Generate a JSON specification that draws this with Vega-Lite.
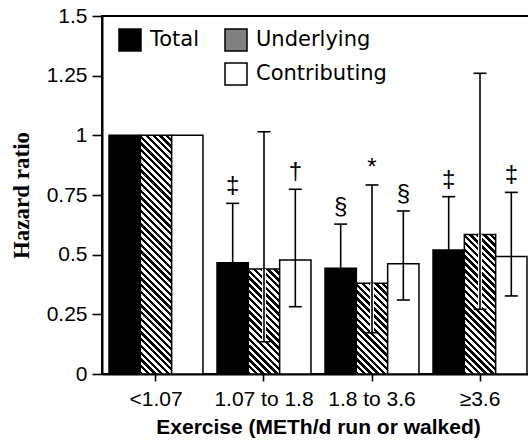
{
"$schema": "https://vega.github.io/schema/vega-lite/v6.json",
"width": 432,
"height": 358,
"autosize": {"type": "none"},
"padding": {"left": 102, "top": 16, "right": 0, "bottom": 72},
"background": "white",
"config": {"view": {"stroke": "black", "strokeWidth": 2}, "font": "Liberation Sans"},
"data": {"values": [
{"group": "<1.07", "series": "Total", "value": 1.0, "low": null, "high": null, "sym": ""},
{"group": "<1.07", "series": "Underlying", "value": 1.0, "low": null, "high": null, "sym": ""},
{"group": "<1.07", "series": "Contributing", "value": 1.0, "low": null, "high": null, "sym": ""},
{"group": "1.07 to 1.8", "series": "Total", "value": 0.466, "low": 0.304, "high": 0.715, "sym": "‡"},
{"group": "1.07 to 1.8", "series": "Underlying", "value": 0.44, "low": 0.135, "high": 1.015, "sym": ""},
{"group": "1.07 to 1.8", "series": "Contributing", "value": 0.478, "low": 0.282, "high": 0.774, "sym": "†"},
{"group": "1.8 to 3.6", "series": "Total", "value": 0.443, "low": 0.312, "high": 0.628, "sym": "§"},
{"group": "1.8 to 3.6", "series": "Underlying", "value": 0.38, "low": 0.173, "high": 0.792, "sym": "*"},
{"group": "1.8 to 3.6", "series": "Contributing", "value": 0.462, "low": 0.31, "high": 0.683, "sym": "§"},
{"group": "≥3.6", "series": "Total", "value": 0.52, "low": 0.364, "high": 0.743, "sym": "‡"},
{"group": "≥3.6", "series": "Underlying", "value": 0.585, "low": 0.271, "high": 1.26, "sym": ""},
{"group": "≥3.6", "series": "Contributing", "value": 0.492, "low": 0.327, "high": 0.761, "sym": "‡"}
]},
"encoding": {
"x": {"field": "group", "type": "nominal", "sort": ["<1.07", "1.07 to 1.8", "1.8 to 3.6", "≥3.6"], "scale": {"paddingInner": 0.13, "paddingOuter": 0.065}, "title": "Exercise (METh/d run or walked)",
"axis": {"labelAngle": 0, "domainColor": "black", "domainWidth": 2, "tickColor": "black", "tickWidth": 1.6, "tickSize": 7, "labelFont": "Liberation Sans", "labelFontSize": 21, "labelColor": "black", "labelPadding": 7, "titleFont": "Liberation Sans", "titleFontSize": 21, "titleFontWeight": "bold", "titleColor": "black", "titlePadding": 7}},
"xOffset": {"field": "series", "type": "nominal", "sort": ["Total", "Underlying", "Contributing"], "scale": {"domain": ["Total", "Underlying", "Contributing"], "paddingInner": 0, "paddingOuter": 0}}
},
"layer": [
{"mark": {"type": "bar", "strokeWidth": 1.5},
"encoding": {
"y": {"field": "value", "type": "quantitative", "scale": {"domain": [0, 1.5], "nice": false}, "title": "Hazard ratio",
"axis": {"values": [0, 0.25, 0.5, 0.75, 1, 1.25, 1.5], "labelExpr": "'' + datum.value", "grid": false, "domainColor": "black", "domainWidth": 2, "tickColor": "black", "tickWidth": 1.6, "tickSize": 10, "labelFont": "Liberation Sans", "labelFontSize": 21, "labelColor": "black", "labelPadding": 5, "titleFont": "Liberation Serif", "titleFontSize": 23, "titleFontWeight": "bold", "titleColor": "black", "titlePadding": 13}},
"stroke": {"field": "series", "type": "nominal",
"scale": {"domain": ["Total", " ", "Underlying", "Contributing"], "range": ["#000000", "#ffffff", "#000000", "#000000"]},
"legend": {"orient": "none", "legendX": 16, "legendY": 12, "columns": 2, "title": null, "padding": 0, "symbolType": "square", "symbolSize": 484, "symbolStrokeWidth": 1.5, "labelFont": "DejaVu Sans", "labelFontSize": 21, "labelColor": "black", "labelOffset": 8, "columnPadding": 22, "rowPadding": 6}},
"fill": {
"condition": [
{"test": "datum.series==='Underlying' && datum.group==='<1.07'", "value": {"gradient": "linear", "x1": 0, "y1": 1, "x2": 0.1458, "y2": -0.1119, "stops": [
{"offset":0,"color":"#000"},{"offset":0.0125,"color":"#000"},{"offset":0.0125,"color":"#fff"},{"offset":0.025,"color":"#fff"},
{"offset":0.025,"color":"#000"},{"offset":0.0375,"color":"#000"},{"offset":0.0375,"color":"#fff"},{"offset":0.05,"color":"#fff"},
{"offset":0.05,"color":"#000"},{"offset":0.0625,"color":"#000"},{"offset":0.0625,"color":"#fff"},{"offset":0.075,"color":"#fff"},
{"offset":0.075,"color":"#000"},{"offset":0.0875,"color":"#000"},{"offset":0.0875,"color":"#fff"},{"offset":0.1,"color":"#fff"},
{"offset":0.1,"color":"#000"},{"offset":0.1125,"color":"#000"},{"offset":0.1125,"color":"#fff"},{"offset":0.125,"color":"#fff"},
{"offset":0.125,"color":"#000"},{"offset":0.1375,"color":"#000"},{"offset":0.1375,"color":"#fff"},{"offset":0.15,"color":"#fff"},
{"offset":0.15,"color":"#000"},{"offset":0.1625,"color":"#000"},{"offset":0.1625,"color":"#fff"},{"offset":0.175,"color":"#fff"},
{"offset":0.175,"color":"#000"},{"offset":0.1875,"color":"#000"},{"offset":0.1875,"color":"#fff"},{"offset":0.2,"color":"#fff"},
{"offset":0.2,"color":"#000"},{"offset":0.2125,"color":"#000"},{"offset":0.2125,"color":"#fff"},{"offset":0.225,"color":"#fff"},
{"offset":0.225,"color":"#000"},{"offset":0.2375,"color":"#000"},{"offset":0.2375,"color":"#fff"},{"offset":0.25,"color":"#fff"},
{"offset":0.25,"color":"#000"},{"offset":0.2625,"color":"#000"},{"offset":0.2625,"color":"#fff"},{"offset":0.275,"color":"#fff"},
{"offset":0.275,"color":"#000"},{"offset":0.2875,"color":"#000"},{"offset":0.2875,"color":"#fff"},{"offset":0.3,"color":"#fff"},
{"offset":0.3,"color":"#000"},{"offset":0.3125,"color":"#000"},{"offset":0.3125,"color":"#fff"},{"offset":0.325,"color":"#fff"},
{"offset":0.325,"color":"#000"},{"offset":0.3375,"color":"#000"},{"offset":0.3375,"color":"#fff"},{"offset":0.35,"color":"#fff"},
{"offset":0.35,"color":"#000"},{"offset":0.3625,"color":"#000"},{"offset":0.3625,"color":"#fff"},{"offset":0.375,"color":"#fff"},
{"offset":0.375,"color":"#000"},{"offset":0.3875,"color":"#000"},{"offset":0.3875,"color":"#fff"},{"offset":0.4,"color":"#fff"},
{"offset":0.4,"color":"#000"},{"offset":0.4125,"color":"#000"},{"offset":0.4125,"color":"#fff"},{"offset":0.425,"color":"#fff"},
{"offset":0.425,"color":"#000"},{"offset":0.4375,"color":"#000"},{"offset":0.4375,"color":"#fff"},{"offset":0.45,"color":"#fff"},
{"offset":0.45,"color":"#000"},{"offset":0.4625,"color":"#000"},{"offset":0.4625,"color":"#fff"},{"offset":0.475,"color":"#fff"},
{"offset":0.475,"color":"#000"},{"offset":0.4875,"color":"#000"},{"offset":0.4875,"color":"#fff"},{"offset":0.5,"color":"#fff"},
{"offset":0.5,"color":"#000"},{"offset":0.5125,"color":"#000"},{"offset":0.5125,"color":"#fff"},{"offset":0.525,"color":"#fff"},
{"offset":0.525,"color":"#000"},{"offset":0.5375,"color":"#000"},{"offset":0.5375,"color":"#fff"},{"offset":0.55,"color":"#fff"},
{"offset":0.55,"color":"#000"},{"offset":0.5625,"color":"#000"},{"offset":0.5625,"color":"#fff"},{"offset":0.575,"color":"#fff"},
{"offset":0.575,"color":"#000"},{"offset":0.5875,"color":"#000"},{"offset":0.5875,"color":"#fff"},{"offset":0.6,"color":"#fff"},
{"offset":0.6,"color":"#000"},{"offset":0.6125,"color":"#000"},{"offset":0.6125,"color":"#fff"},{"offset":0.625,"color":"#fff"},
{"offset":0.625,"color":"#000"},{"offset":0.6375,"color":"#000"},{"offset":0.6375,"color":"#fff"},{"offset":0.65,"color":"#fff"},
{"offset":0.65,"color":"#000"},{"offset":0.6625,"color":"#000"},{"offset":0.6625,"color":"#fff"},{"offset":0.675,"color":"#fff"},
{"offset":0.675,"color":"#000"},{"offset":0.6875,"color":"#000"},{"offset":0.6875,"color":"#fff"},{"offset":0.7,"color":"#fff"},
{"offset":0.7,"color":"#000"},{"offset":0.7125,"color":"#000"},{"offset":0.7125,"color":"#fff"},{"offset":0.725,"color":"#fff"},
{"offset":0.725,"color":"#000"},{"offset":0.7375,"color":"#000"},{"offset":0.7375,"color":"#fff"},{"offset":0.75,"color":"#fff"},
{"offset":0.75,"color":"#000"},{"offset":0.7625,"color":"#000"},{"offset":0.7625,"color":"#fff"},{"offset":0.775,"color":"#fff"},
{"offset":0.775,"color":"#000"},{"offset":0.7875,"color":"#000"},{"offset":0.7875,"color":"#fff"},{"offset":0.8,"color":"#fff"},
{"offset":0.8,"color":"#000"},{"offset":0.8125,"color":"#000"},{"offset":0.8125,"color":"#fff"},{"offset":0.825,"color":"#fff"},
{"offset":0.825,"color":"#000"},{"offset":0.8375,"color":"#000"},{"offset":0.8375,"color":"#fff"},{"offset":0.85,"color":"#fff"},
{"offset":0.85,"color":"#000"},{"offset":0.8625,"color":"#000"},{"offset":0.8625,"color":"#fff"},{"offset":0.875,"color":"#fff"},
{"offset":0.875,"color":"#000"},{"offset":0.8875,"color":"#000"},{"offset":0.8875,"color":"#fff"},{"offset":0.9,"color":"#fff"},
{"offset":0.9,"color":"#000"},{"offset":0.9125,"color":"#000"},{"offset":0.9125,"color":"#fff"},{"offset":0.925,"color":"#fff"},
{"offset":0.925,"color":"#000"},{"offset":0.9375,"color":"#000"},{"offset":0.9375,"color":"#fff"},{"offset":0.95,"color":"#fff"},
{"offset":0.95,"color":"#000"},{"offset":0.9625,"color":"#000"},{"offset":0.9625,"color":"#fff"},{"offset":0.975,"color":"#fff"},
{"offset":0.975,"color":"#000"},{"offset":0.9875,"color":"#000"},{"offset":0.9875,"color":"#fff"},{"offset":1,"color":"#fff"}
]}},
{"test": "datum.series==='Underlying' && datum.group==='1.07 to 1.8'", "value": {"gradient": "linear", "x1": 0, "y1": 1, "x2": 0.3552, "y2": -0.1917, "stops": [
{"offset":0,"color":"#000"},{"offset":0.025,"color":"#000"},{"offset":0.025,"color":"#fff"},{"offset":0.05,"color":"#fff"},
{"offset":0.05,"color":"#000"},{"offset":0.075,"color":"#000"},{"offset":0.075,"color":"#fff"},{"offset":0.1,"color":"#fff"},
{"offset":0.1,"color":"#000"},{"offset":0.125,"color":"#000"},{"offset":0.125,"color":"#fff"},{"offset":0.15,"color":"#fff"},
{"offset":0.15,"color":"#000"},{"offset":0.175,"color":"#000"},{"offset":0.175,"color":"#fff"},{"offset":0.2,"color":"#fff"},
{"offset":0.2,"color":"#000"},{"offset":0.225,"color":"#000"},{"offset":0.225,"color":"#fff"},{"offset":0.25,"color":"#fff"},
{"offset":0.25,"color":"#000"},{"offset":0.275,"color":"#000"},{"offset":0.275,"color":"#fff"},{"offset":0.3,"color":"#fff"},
{"offset":0.3,"color":"#000"},{"offset":0.325,"color":"#000"},{"offset":0.325,"color":"#fff"},{"offset":0.35,"color":"#fff"},
{"offset":0.35,"color":"#000"},{"offset":0.375,"color":"#000"},{"offset":0.375,"color":"#fff"},{"offset":0.4,"color":"#fff"},
{"offset":0.4,"color":"#000"},{"offset":0.425,"color":"#000"},{"offset":0.425,"color":"#fff"},{"offset":0.45,"color":"#fff"},
{"offset":0.45,"color":"#000"},{"offset":0.475,"color":"#000"},{"offset":0.475,"color":"#fff"},{"offset":0.5,"color":"#fff"},
{"offset":0.5,"color":"#000"},{"offset":0.525,"color":"#000"},{"offset":0.525,"color":"#fff"},{"offset":0.55,"color":"#fff"},
{"offset":0.55,"color":"#000"},{"offset":0.575,"color":"#000"},{"offset":0.575,"color":"#fff"},{"offset":0.6,"color":"#fff"},
{"offset":0.6,"color":"#000"},{"offset":0.625,"color":"#000"},{"offset":0.625,"color":"#fff"},{"offset":0.65,"color":"#fff"},
{"offset":0.65,"color":"#000"},{"offset":0.675,"color":"#000"},{"offset":0.675,"color":"#fff"},{"offset":0.7,"color":"#fff"},
{"offset":0.7,"color":"#000"},{"offset":0.725,"color":"#000"},{"offset":0.725,"color":"#fff"},{"offset":0.75,"color":"#fff"},
{"offset":0.75,"color":"#000"},{"offset":0.775,"color":"#000"},{"offset":0.775,"color":"#fff"},{"offset":0.8,"color":"#fff"},
{"offset":0.8,"color":"#000"},{"offset":0.825,"color":"#000"},{"offset":0.825,"color":"#fff"},{"offset":0.85,"color":"#fff"},
{"offset":0.85,"color":"#000"},{"offset":0.875,"color":"#000"},{"offset":0.875,"color":"#fff"},{"offset":0.9,"color":"#fff"},
{"offset":0.9,"color":"#000"},{"offset":0.925,"color":"#000"},{"offset":0.925,"color":"#fff"},{"offset":0.95,"color":"#fff"},
{"offset":0.95,"color":"#000"},{"offset":0.975,"color":"#000"},{"offset":0.975,"color":"#fff"},{"offset":1,"color":"#fff"}
]}},
{"test": "datum.series==='Underlying' && datum.group==='1.8 to 3.6'", "value": {"gradient": "linear", "x1": 0, "y1": 1, "x2": 0.4148, "y2": -0.2021, "stops": [
{"offset":0,"color":"#000"},{"offset":0.0278,"color":"#000"},{"offset":0.0278,"color":"#fff"},{"offset":0.0556,"color":"#fff"},
{"offset":0.0556,"color":"#000"},{"offset":0.0833,"color":"#000"},{"offset":0.0833,"color":"#fff"},{"offset":0.1111,"color":"#fff"},
{"offset":0.1111,"color":"#000"},{"offset":0.1389,"color":"#000"},{"offset":0.1389,"color":"#fff"},{"offset":0.1667,"color":"#fff"},
{"offset":0.1667,"color":"#000"},{"offset":0.1944,"color":"#000"},{"offset":0.1944,"color":"#fff"},{"offset":0.2222,"color":"#fff"},
{"offset":0.2222,"color":"#000"},{"offset":0.25,"color":"#000"},{"offset":0.25,"color":"#fff"},{"offset":0.2778,"color":"#fff"},
{"offset":0.2778,"color":"#000"},{"offset":0.3056,"color":"#000"},{"offset":0.3056,"color":"#fff"},{"offset":0.3333,"color":"#fff"},
{"offset":0.3333,"color":"#000"},{"offset":0.3611,"color":"#000"},{"offset":0.3611,"color":"#fff"},{"offset":0.3889,"color":"#fff"},
{"offset":0.3889,"color":"#000"},{"offset":0.4167,"color":"#000"},{"offset":0.4167,"color":"#fff"},{"offset":0.4444,"color":"#fff"},
{"offset":0.4444,"color":"#000"},{"offset":0.4722,"color":"#000"},{"offset":0.4722,"color":"#fff"},{"offset":0.5,"color":"#fff"},
{"offset":0.5,"color":"#000"},{"offset":0.5278,"color":"#000"},{"offset":0.5278,"color":"#fff"},{"offset":0.5556,"color":"#fff"},
{"offset":0.5556,"color":"#000"},{"offset":0.5833,"color":"#000"},{"offset":0.5833,"color":"#fff"},{"offset":0.6111,"color":"#fff"},
{"offset":0.6111,"color":"#000"},{"offset":0.6389,"color":"#000"},{"offset":0.6389,"color":"#fff"},{"offset":0.6667,"color":"#fff"},
{"offset":0.6667,"color":"#000"},{"offset":0.6944,"color":"#000"},{"offset":0.6944,"color":"#fff"},{"offset":0.7222,"color":"#fff"},
{"offset":0.7222,"color":"#000"},{"offset":0.75,"color":"#000"},{"offset":0.75,"color":"#fff"},{"offset":0.7778,"color":"#fff"},
{"offset":0.7778,"color":"#000"},{"offset":0.8056,"color":"#000"},{"offset":0.8056,"color":"#fff"},{"offset":0.8333,"color":"#fff"},
{"offset":0.8333,"color":"#000"},{"offset":0.8611,"color":"#000"},{"offset":0.8611,"color":"#fff"},{"offset":0.8889,"color":"#fff"},
{"offset":0.8889,"color":"#000"},{"offset":0.9167,"color":"#000"},{"offset":0.9167,"color":"#fff"},{"offset":0.9444,"color":"#fff"},
{"offset":0.9444,"color":"#000"},{"offset":0.9722,"color":"#000"},{"offset":0.9722,"color":"#fff"},{"offset":1,"color":"#fff"}
]}},
{"test": "datum.series==='Underlying' && datum.group==='≥3.6'", "value": {"gradient": "linear", "x1": 0, "y1": 1, "x2": 0.2614, "y2": -0.1658, "stops": [
{"offset":0,"color":"#000"},{"offset":0.02,"color":"#000"},{"offset":0.02,"color":"#fff"},{"offset":0.04,"color":"#fff"},
{"offset":0.04,"color":"#000"},{"offset":0.06,"color":"#000"},{"offset":0.06,"color":"#fff"},{"offset":0.08,"color":"#fff"},
{"offset":0.08,"color":"#000"},{"offset":0.1,"color":"#000"},{"offset":0.1,"color":"#fff"},{"offset":0.12,"color":"#fff"},
{"offset":0.12,"color":"#000"},{"offset":0.14,"color":"#000"},{"offset":0.14,"color":"#fff"},{"offset":0.16,"color":"#fff"},
{"offset":0.16,"color":"#000"},{"offset":0.18,"color":"#000"},{"offset":0.18,"color":"#fff"},{"offset":0.2,"color":"#fff"},
{"offset":0.2,"color":"#000"},{"offset":0.22,"color":"#000"},{"offset":0.22,"color":"#fff"},{"offset":0.24,"color":"#fff"},
{"offset":0.24,"color":"#000"},{"offset":0.26,"color":"#000"},{"offset":0.26,"color":"#fff"},{"offset":0.28,"color":"#fff"},
{"offset":0.28,"color":"#000"},{"offset":0.3,"color":"#000"},{"offset":0.3,"color":"#fff"},{"offset":0.32,"color":"#fff"},
{"offset":0.32,"color":"#000"},{"offset":0.34,"color":"#000"},{"offset":0.34,"color":"#fff"},{"offset":0.36,"color":"#fff"},
{"offset":0.36,"color":"#000"},{"offset":0.38,"color":"#000"},{"offset":0.38,"color":"#fff"},{"offset":0.4,"color":"#fff"},
{"offset":0.4,"color":"#000"},{"offset":0.42,"color":"#000"},{"offset":0.42,"color":"#fff"},{"offset":0.44,"color":"#fff"},
{"offset":0.44,"color":"#000"},{"offset":0.46,"color":"#000"},{"offset":0.46,"color":"#fff"},{"offset":0.48,"color":"#fff"},
{"offset":0.48,"color":"#000"},{"offset":0.5,"color":"#000"},{"offset":0.5,"color":"#fff"},{"offset":0.52,"color":"#fff"},
{"offset":0.52,"color":"#000"},{"offset":0.54,"color":"#000"},{"offset":0.54,"color":"#fff"},{"offset":0.56,"color":"#fff"},
{"offset":0.56,"color":"#000"},{"offset":0.58,"color":"#000"},{"offset":0.58,"color":"#fff"},{"offset":0.6,"color":"#fff"},
{"offset":0.6,"color":"#000"},{"offset":0.62,"color":"#000"},{"offset":0.62,"color":"#fff"},{"offset":0.64,"color":"#fff"},
{"offset":0.64,"color":"#000"},{"offset":0.66,"color":"#000"},{"offset":0.66,"color":"#fff"},{"offset":0.68,"color":"#fff"},
{"offset":0.68,"color":"#000"},{"offset":0.7,"color":"#000"},{"offset":0.7,"color":"#fff"},{"offset":0.72,"color":"#fff"},
{"offset":0.72,"color":"#000"},{"offset":0.74,"color":"#000"},{"offset":0.74,"color":"#fff"},{"offset":0.76,"color":"#fff"},
{"offset":0.76,"color":"#000"},{"offset":0.78,"color":"#000"},{"offset":0.78,"color":"#fff"},{"offset":0.8,"color":"#fff"},
{"offset":0.8,"color":"#000"},{"offset":0.82,"color":"#000"},{"offset":0.82,"color":"#fff"},{"offset":0.84,"color":"#fff"},
{"offset":0.84,"color":"#000"},{"offset":0.86,"color":"#000"},{"offset":0.86,"color":"#fff"},{"offset":0.88,"color":"#fff"},
{"offset":0.88,"color":"#000"},{"offset":0.9,"color":"#000"},{"offset":0.9,"color":"#fff"},{"offset":0.92,"color":"#fff"},
{"offset":0.92,"color":"#000"},{"offset":0.94,"color":"#000"},{"offset":0.94,"color":"#fff"},{"offset":0.96,"color":"#fff"},
{"offset":0.96,"color":"#000"},{"offset":0.98,"color":"#000"},{"offset":0.98,"color":"#fff"},{"offset":1,"color":"#fff"}
]}}
],
"field": "series", "type": "nominal",
"scale": {"domain": ["Total", " ", "Underlying", "Contributing"], "range": ["#000000", "#ffffff", "#808080", "#ffffff"]},
"legend": {"orient": "none", "legendX": 16, "legendY": 12, "columns": 2, "title": null, "padding": 0, "symbolType": "square", "symbolSize": 484, "symbolStrokeWidth": 1.5, "labelFont": "DejaVu Sans", "labelFontSize": 21, "labelColor": "black", "labelOffset": 8, "columnPadding": 22, "rowPadding": 6}
}
}},
{"transform": [{"filter": "datum.high != null && datum.series === 'Underlying'"}],
"mark": {"type": "rule", "stroke": "white", "strokeWidth": 4},
"encoding": {"y": {"field": "low", "type": "quantitative", "title": "Hazard ratio"}, "y2": {"field": "value"}}},
{"transform": [{"filter": "datum.high != null"}],
"mark": {"type": "rule", "stroke": "black", "strokeWidth": 1.6},
"encoding": {"y": {"field": "low", "type": "quantitative", "title": "Hazard ratio"}, "y2": {"field": "high"}}},
{"transform": [{"filter": "datum.high != null"}],
"mark": {"type": "tick", "color": "black", "thickness": 1.6, "size": 13, "opacity": 1},
"encoding": {"y": {"field": "high", "type": "quantitative", "title": "Hazard ratio"}}},
{"transform": [{"filter": "datum.high != null"}],
"mark": {"type": "tick", "color": "black", "thickness": 1.6, "size": 13, "opacity": 1},
"encoding": {"y": {"field": "low", "type": "quantitative", "title": "Hazard ratio"}}},
{"transform": [{"filter": "datum.sym != ''"}],
"mark": {"type": "text", "font": "Liberation Sans", "fontSize": 24, "baseline": "alphabetic", "dy": -10, "color": "black"},
"encoding": {"y": {"field": "high", "type": "quantitative", "title": "Hazard ratio"}, "text": {"field": "sym"}}}
]
}
